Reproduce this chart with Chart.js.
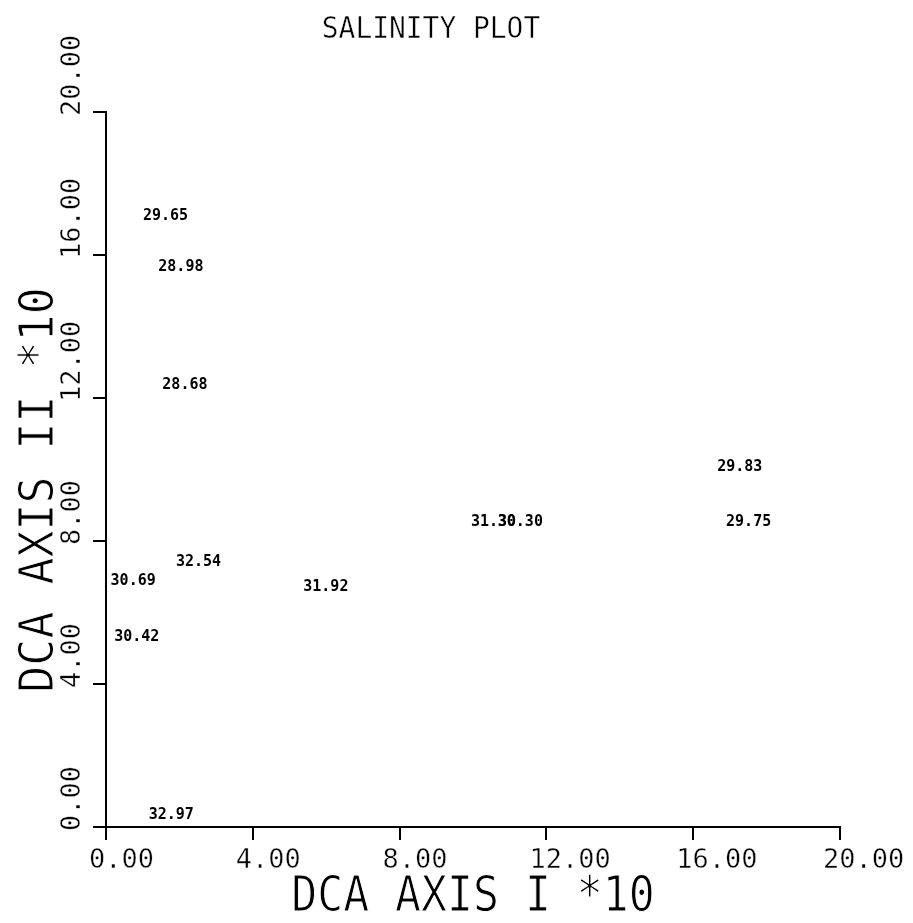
<!DOCTYPE html>
<html>
<head>
<meta charset="utf-8">
<title>Salinity plot</title>
<script src="https://cdn.jsdelivr.net/npm/chart.js@4.4.1/dist/chart.umd.min.js"></script>
<style>
  html, body { margin: 0; padding: 0; background: #fff; }
  #wrap { width: 913px; height: 923px; position: relative; }
</style>
</head>
<body>
<div id="wrap"><canvas id="plot"></canvas></div>
<script>
// sample positions on the first two DCA axes (scaled *10) and their salinities
const dcaAxis1 = [1.62, 2.04, 2.15, 2.52, 0.74, 0.84, 1.78, 5.99, 10.56, 11.29, 17.27, 17.51];
const dcaAxis2 = [17.09, 15.66, 12.36, 7.41, 6.88, 5.31, 0.34, 6.71, 8.53, 8.53, 10.07, 8.53];
const salinity = ['29.65', '28.98', '28.68', '32.54', '30.69', '30.42', '32.97', '31.92', '31.30', '30.30', '29.83', '29.75'];

const tickValues = [0, 4, 8, 12, 16, 20];
const tickLabels = ['0.00', '4.00', '8.00', '12.00', '16.00', '20.00'];

const chartTitle = 'SALINITY PLOT';
const xTitle = 'DCA AXIS I *10';
const yTitle = 'DCA AXIS II *10';

const MONO = '"DejaVu Sans Mono", "Liberation Mono", monospace';

// fill, then shave the edges with a white stroke so the letters look pen-drawn
function thinText(ctx, text, x, y, shave) {
  ctx.fillText(text, x, y);
  ctx.save();
  ctx.strokeStyle = '#fff';
  ctx.lineWidth = shave;
  ctx.lineJoin = 'round';
  ctx.strokeText(text, x, y);
  ctx.restore();
}

// text is drawn by hand so it can sit where the old plotter put it
const plotText = {
  id: 'plotText',
  afterDraw(chart) {
    const ctx = chart.ctx;
    const xs = chart.scales.x;
    const ys = chart.scales.y;
    ctx.save();
    ctx.fillStyle = '#000';

    // title
    ctx.save();
    ctx.font = '31px ' + MONO;
    ctx.textAlign = 'center';
    ctx.textBaseline = 'alphabetic';
    ctx.translate(431, 38);
    ctx.scale(0.9, 1);
    thinText(ctx, chartTitle, 0, 0, 0.5);
    ctx.restore();

    // x tick labels, starting just left of each tick
    ctx.font = '27px ' + MONO;
    ctx.textAlign = 'left';
    ctx.textBaseline = 'alphabetic';
    tickValues.forEach((v, i) => {
      const px = xs.getPixelForValue(v);
      thinText(ctx, tickLabels[i], px - 17, 868, 0.4);
    });

    // y tick labels, rotated, reading upward from each tick
    tickValues.forEach((v, i) => {
      const py = ys.getPixelForValue(v);
      ctx.save();
      ctx.translate(80, py + 4);
      ctx.rotate(-Math.PI / 2);
      thinText(ctx, tickLabels[i], 0, 0, 0.4);
      ctx.restore();
    });

    // axis titles
    ctx.save();
    ctx.font = '44px ' + MONO;
    ctx.textAlign = 'center';
    ctx.translate((xs.left + xs.right) / 2, 911);
    ctx.scale(0.98, 1.15);
    thinText(ctx, xTitle, 0, 0, 0.9);
    ctx.restore();

    ctx.save();
    ctx.font = '44px ' + MONO;
    ctx.textAlign = 'center';
    ctx.translate(53, 490);
    ctx.rotate(-Math.PI / 2);
    ctx.scale(1.02, 1.1);
    thinText(ctx, yTitle, 0, 0, 0.9);
    ctx.restore();

    // salinity labels at each sample point
    ctx.font = 'bold 15px ' + MONO;
    ctx.textAlign = 'center';
    ctx.textBaseline = 'middle';
    const meta = chart.getDatasetMeta(0);
    meta.data.forEach((pt, i) => {
      ctx.fillText(salinity[i], pt.x, pt.y);
    });

    ctx.restore();
  }
};

const axisStyle = {
  type: 'linear',
  min: 0,
  max: 20,
  grid: {
    drawOnChartArea: false,
    drawTicks: true,
    tickLength: 13,
    color: '#000',
    lineWidth: 2
  },
  border: { display: true, color: '#000', width: 2 },
  ticks: { display: false, stepSize: 4 }
};

new Chart(document.getElementById('plot'), {
  type: 'scatter',
  data: {
    datasets: [{
      label: 'Salinity',
      data: dcaAxis1.map((x, i) => ({ x: x, y: dcaAxis2[i] })),
      pointRadius: 0,
      pointHoverRadius: 0,
      showLine: false
    }]
  },
  options: {
    responsive: true,
    maintainAspectRatio: false,
    animation: false,
    events: [],
    layout: {
      padding: { top: 112, left: 93, right: 73, bottom: 83 }
    },
    plugins: {
      legend: { display: false },
      tooltip: { enabled: false },
      title: { display: false }
    },
    scales: {
      x: axisStyle,
      y: axisStyle
    }
  },
  plugins: [plotText]
});
</script>
</body>
</html>
